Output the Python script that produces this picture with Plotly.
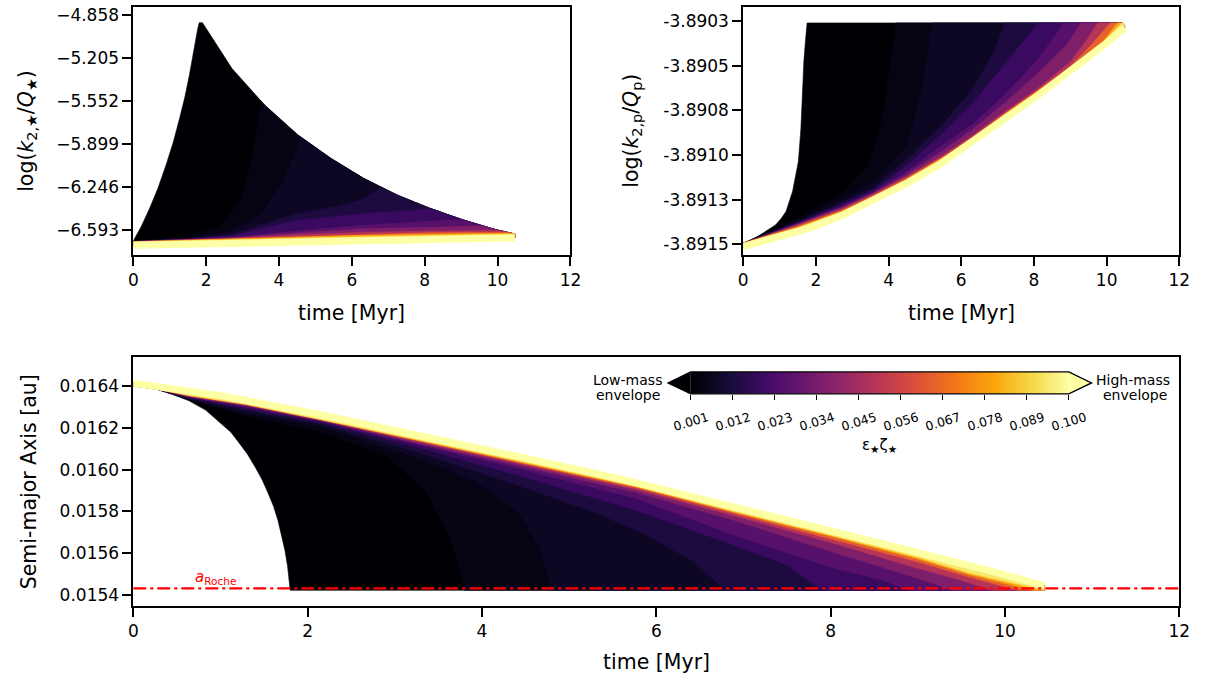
import plotly.graph_objects as go

W, H = 1214, 684
FONT = "DejaVu Sans"

# ---------------- data ----------------
eps_ticks = [0.001, 0.012, 0.023, 0.034, 0.045, 0.056, 0.067, 0.078, 0.089, 0.100]
eps_tick_labels = ["0.001", "0.012", "0.023", "0.034", "0.045",
                   "0.056", "0.067", "0.078", "0.089", "0.100"]
eps_low, eps_high = 0.001, 0.100
# parameter values of the intermediate (iso-colour) curves between the two envelopes
level_eps = [0.003, 0.005, 0.010, 0.016, 0.023, 0.031, 0.043, 0.058, 0.075, 0.090]
time_ticks = [0, 2, 4, 6, 8, 10, 12]

# ---- panel 1: log(k2,*/Q*) ----
ks_low_t = [0, 0.22, 0.45, 0.68, 0.9, 1.1, 1.27, 1.41, 1.54, 1.63, 1.72, 1.77, 1.81]
ks_low_y = [-6.678, -6.561, -6.414, -6.251, -6.065, -5.880, -5.690, -5.526, -5.341,
            -5.207, -5.046, -4.966, -4.918]
ks_end_t = [1.81, 1.9, 2.71, 3.61, 4.52, 5.42, 6.32, 7.23, 8.13, 9.03, 9.94, 10.48]
ks_end_y = [-4.918, -4.918, -5.288, -5.583, -5.824, -6.012, -6.173, -6.307,
            -6.414, -6.507, -6.587, -6.623]
ks_high_t = [0, 5.0, 10.47]
ks_high_y = [-6.714, -6.686, -6.655]
ks_level_t = [
    [0, 1.5, 2.4, 2.9, 3.25, 3.5],
    [0, 1.5, 2.7, 3.5, 4.1, 4.6],
    [0, 1.5, 2.7, 4.5, 5.6, 6.3, 6.8],
    [0, 1.5, 2.7, 4.5, 6.3, 7.5, 8.2],
    [0, 1.5, 2.7, 4.5, 6.3, 8.1, 9.0],
    [0, 1.5, 2.7, 4.5, 6.3, 8.1, 9.6],
    [0, 1.5, 2.7, 4.5, 6.3, 8.1, 10.0],
    [0, 1.5, 2.7, 4.5, 6.3, 8.1, 10.25],
    [0, 1.5, 2.7, 4.5, 6.3, 8.1, 10.38],
    [0, 1.5, 2.7, 4.5, 6.3, 8.1, 10.45],
]
ks_level_y = [
    [-6.6799, -6.6453, -6.5528, -6.3597, -6.0380, -5.5473],
    [-6.6815, -6.6574, -6.6010, -6.4563, -6.2149, -5.8401],
    [-6.6815, -6.6614, -6.6252, -6.4563, -6.3999, -6.3436, -6.2431],
    [-6.6815, -6.6646, -6.6372, -6.5126, -6.4563, -6.4361, -6.4209],
    [-6.6831, -6.6670, -6.6493, -6.5970, -6.5528, -6.5206, -6.5045],
    [-6.6839, -6.6686, -6.6533, -6.6131, -6.5809, -6.5689, -6.5576],
    [-6.6847, -6.6702, -6.6574, -6.6292, -6.6091, -6.5994, -6.5938],
    [-6.6855, -6.6718, -6.6622, -6.6413, -6.6252, -6.6131, -6.6083],
    [-6.6859, -6.6734, -6.6654, -6.6493, -6.6332, -6.6252, -6.6163],
    [-6.6863, -6.6750, -6.6694, -6.6574, -6.6453, -6.6348, -6.6211],
]
ks_ticks = [-6.593, -6.246, -5.899, -5.552, -5.205, -4.858]
ks_tick_labels = ["\u22126.593", "\u22126.246", "\u22125.899", "\u22125.552", "\u22125.205", "\u22124.858"]
ks_range = [-6.794, -4.791]

# ---- panel 2: log(k2,p/Qp) ----
kp_low_t = [0, 0.45, 0.9, 1.05, 1.18, 1.27, 1.36, 1.52, 1.59, 1.63, 1.67, 1.72, 1.76]
kp_low_y = [-3.8915235, -3.8914729, -3.8914146, -3.8913803, -3.8913422, -3.8912932,
            -3.8912333, -3.8910699, -3.8908885, -3.8907066, -3.8905253, -3.8903984,
            -3.8903129]
kp_end_t = [1.76, 10.45]
kp_end_y = [-3.8903129, -3.8903129]
kp_high_t = [0, 0.9, 1.8, 2.7, 3.6, 4.5, 5.4, 6.3, 7.2, 8.1, 9.0, 9.9, 10.5]
kp_high_y = [-3.8915355, -3.8914892, -3.8914348, -3.8913667, -3.8912823, -3.8911897,
             -3.8910862, -3.8909664, -3.8908357, -3.8907105, -3.8905798, -3.8904382,
             -3.8903401]
kp_level_t = [
    [0, 1.5, 2.7, 3.4, 3.8, 4.0, 4.2],
    [0, 1.5, 2.7, 3.6, 4.5, 4.9, 5.2],
    [0, 1.5, 2.7, 3.6, 4.5, 5.5, 6.3, 6.9, 7.2],
    [0, 1.5, 2.7, 3.6, 4.5, 5.5, 6.3, 7.2, 7.7, 8.1],
    [0, 1.5, 2.7, 3.6, 4.5, 5.5, 6.3, 7.2, 8.1, 8.5, 8.8],
    [0, 1.5, 2.7, 3.6, 4.5, 5.5, 6.3, 7.2, 8.1, 8.9, 9.3],
    [0, 1.5, 2.7, 3.6, 4.5, 5.5, 6.3, 7.2, 8.1, 9.0, 9.45, 9.75],
    [0, 1.5, 2.7, 3.6, 4.5, 5.5, 6.3, 7.2, 8.1, 9.0, 9.6, 10.1],
    [0, 1.5, 2.7, 3.6, 4.5, 5.5, 6.3, 7.2, 8.1, 9.0, 9.9, 10.3],
    [0, 1.5, 2.7, 3.6, 4.5, 5.5, 6.3, 7.2, 8.1, 9.0, 9.9, 10.42],
]
kp_level_y = [
    [-3.8915164, -3.8913803, -3.8912442, -3.8910971, -3.8908520, -3.8906070, -3.8903129],
    [-3.8915164, -3.8913912, -3.8912768, -3.8911788, -3.8909882, -3.8906886, -3.8903129],
    [-3.8915164, -3.8913993, -3.8912959, -3.8912115, -3.8910590, -3.8908629, -3.8906777,
     -3.8904708, -3.8903129],
    [-3.8915164, -3.8914048, -3.8913068, -3.8912251, -3.8910916, -3.8909119, -3.8907540,
     -3.8905362, -3.8904163, -3.8903129],
    [-3.8915164, -3.8914091, -3.8913149, -3.8912349, -3.8911243, -3.8909773, -3.8908684,
     -3.8907050, -3.8905144, -3.8904054, -3.8903129],
    [-3.8915164, -3.8914124, -3.8913220, -3.8912403, -3.8911396, -3.8910100, -3.8908956,
     -3.8907485, -3.8905906, -3.8904327, -3.8903129],
    [-3.8915164, -3.8914151, -3.8913291, -3.8912447, -3.8911521, -3.8910356, -3.8909288,
     -3.8907981, -3.8906728, -3.8905253, -3.8904054, -3.8903129],
    [-3.8915164, -3.8914233, -3.8913373, -3.8912528, -3.8911603, -3.8910437, -3.8909370,
     -3.8908063, -3.8906810, -3.8905503, -3.8904272, -3.8903129],
    [-3.8915164, -3.8914287, -3.8913427, -3.8912583, -3.8911657, -3.8910492, -3.8909424,
     -3.8908117, -3.8906865, -3.8905558, -3.8904142, -3.8903129],
    [-3.8915164, -3.8914326, -3.8913465, -3.8912621, -3.8911695, -3.8910530, -3.8909462,
     -3.8908155, -3.8906903, -3.8905596, -3.8904180, -3.8903129],
]
kp_ticks = [-3.891522, -3.891278, -3.891034, -3.890790, -3.890546, -3.890302]
kp_tick_labels = ["-3.8915", "-3.8913", "-3.8910", "-3.8908", "-3.8905", "-3.8903"]
kp_range = [-3.8915818, -3.8902257]

# ---- panel 3: semi-major axis [au] ----
sm_low_t = [0, 0.26, 0.45, 0.64, 0.83, 1.02, 1.12, 1.21, 1.31, 1.40, 1.48, 1.55, 1.61,
            1.66, 1.70, 1.74, 1.77, 1.79, 1.80]
sm_low_y = [0.0163999, 0.0163842, 0.0163595, 0.0163285, 0.0162842, 0.0162175, 0.0161785,
            0.0161299, 0.0160737, 0.0160109, 0.0159499, 0.0158842, 0.0158237, 0.0157571,
            0.0156904, 0.0156142, 0.0155380, 0.0154556, 0.0154237]
sm_end_t = [1.80, 10.45]
sm_end_y = [0.0154237, 0.0154237]
sm_high_t = [0, 1.02, 2.15, 3.28, 4.42, 5.55, 6.45, 7.59, 8.72, 9.85, 10.45]
sm_high_y = [0.0164128, 0.0163523, 0.0162618, 0.0161642, 0.0160618, 0.0159594,
             0.0158690, 0.0157523, 0.0156332, 0.0155142, 0.0154451]
sm_level_t = [
    [0, 0.26, 0.64, 1.3, 2.15, 2.9, 3.35, 3.65, 3.8],
    [0, 0.26, 0.64, 1.3, 2.15, 3.28, 3.9, 4.4, 4.65, 4.8],
    [0, 0.26, 0.64, 1.3, 2.15, 3.28, 4.42, 5.3, 5.9, 6.4, 6.8],
    [0, 0.26, 0.64, 1.3, 2.15, 3.28, 4.42, 5.77, 6.9, 7.5, 7.9],
    [0, 0.26, 0.64, 1.3, 2.15, 3.28, 4.42, 5.77, 6.9, 8.04, 8.6, 8.9],
    [0, 0.26, 0.64, 1.3, 2.15, 3.28, 4.42, 5.77, 6.9, 8.04, 9.0, 9.4],
    [0, 0.26, 0.64, 1.3, 2.15, 3.28, 4.42, 5.77, 6.9, 8.04, 9.0, 9.5, 9.85],
    [0, 0.26, 0.64, 1.3, 2.15, 3.28, 4.42, 5.77, 6.9, 8.04, 9.0, 9.6, 10.15],
    [0, 0.26, 0.64, 1.3, 2.15, 3.28, 4.42, 5.77, 6.9, 8.04, 9.0, 9.6, 10.32],
    [0, 0.26, 0.64, 1.3, 2.15, 3.28, 4.42, 5.77, 6.9, 8.04, 9.0, 9.6, 10.42],
]
sm_level_y = [
    [0.0163999, 0.0163856, 0.0163333, 0.0162523, 0.0161761, 0.0160666, 0.0158999,
     0.0156618, 0.0154237],
    [0.0163999, 0.0163856, 0.0163356, 0.0162666, 0.0162047, 0.0160523, 0.0159475,
     0.0158047, 0.0156380, 0.0154237],
    [0.0163999, 0.0163856, 0.0163404, 0.0162809, 0.0162166, 0.0160809, 0.0159237,
     0.0157952, 0.0156856, 0.0155666, 0.0154237],
    [0.0163999, 0.0163856, 0.0163437, 0.0162928, 0.0162261, 0.0161047, 0.0159714,
     0.0158047, 0.0156380, 0.0155428, 0.0154237],
    [0.0163999, 0.0163856, 0.0163466, 0.0162999, 0.0162309, 0.0161166, 0.0160047,
     0.0158618, 0.0156856, 0.0155285, 0.0154713, 0.0154237],
    [0.0163999, 0.0163856, 0.0163485, 0.0163047, 0.0162342, 0.0161237, 0.0160190,
     0.0158904, 0.0157571, 0.0156047, 0.0154809, 0.0154237],
    [0.0163999, 0.0163856, 0.0163504, 0.0163071, 0.0162366, 0.0161309, 0.0160285,
     0.0159047, 0.0157785, 0.0156475, 0.0155285, 0.0154713, 0.0154237],
    [0.0163999, 0.0163856, 0.0163523, 0.0163095, 0.0162380, 0.0161356, 0.0160356,
     0.0159128, 0.0157904, 0.0156666, 0.0155594, 0.0154856, 0.0154237],
    [0.0163999, 0.0163856, 0.0163537, 0.0163109, 0.0162390, 0.0161390, 0.0160390,
     0.0159175, 0.0157961, 0.0156785, 0.0155737, 0.0154975, 0.0154237],
    [0.0163999, 0.0163856, 0.0163547, 0.0163123, 0.0162399, 0.0161418, 0.0160418,
     0.0159209, 0.0157999, 0.0156833, 0.0155809, 0.0155047, 0.0154237],
]
sm_ticks = [0.0154, 0.0156, 0.0158, 0.0160, 0.0162, 0.0164]
sm_tick_labels = ["0.0154", "0.0156", "0.0158", "0.0160", "0.0162", "0.0164"]
sm_range = [0.0153475, 0.016538]
a_roche = 0.015433

# ---------------- colours ----------------
INFERNO = ['#000004', '#160b39', '#420a68', '#6a176e', '#932667', '#bc3754',
           '#dd513a', '#f37819', '#fca50a', '#f6d746', '#fcffa4']


def _rgb(h):
    return tuple(int(h[i:i + 2], 16) for i in (1, 3, 5))


def inferno(n):
    n = min(max(n, 0.0), 1.0)
    pos = n * 10
    i = min(int(pos), 9)
    f = pos - i
    a, b = _rgb(INFERNO[i]), _rgb(INFERNO[i + 1])
    c = [round(a[j] + (b[j] - a[j]) * f) for j in range(3)]
    return "rgb(%d,%d,%d)" % tuple(c)


def eps_color(e):
    return inferno((e - eps_low) / (eps_high - eps_low))


inferno_scale = [[i / 10, c] for i, c in enumerate(INFERNO)]

# ---------------- figure ----------------
fig = go.Figure()


def add_family(xa, ya, low_t, low_y, end_t, end_y, high_t, high_y, lev_t, lev_y):
    curves = [(low_t, low_y)] + list(zip(lev_t, lev_y))
    for k, (ct, cy) in enumerate(curves):
        xs, ys = list(ct), list(cy)
        for t, y in zip(end_t, end_y):
            if t > ct[-1] + 1e-9:
                xs.append(t)
                ys.append(y)
        xs += high_t[::-1]
        ys += high_y[::-1]
        if k == 0:
            col = eps_color(eps_low)
        else:
            e_here = level_eps[k - 1]
            e_next = level_eps[k] if k < len(level_eps) else eps_high
            col = eps_color(e_here + 0.4 * (e_next - e_here))
        fig.add_trace(go.Scatter(x=xs, y=ys, mode="lines", fill="toself",
                                 fillcolor=col, line=dict(color=col, width=0.6),
                                 hoverinfo="skip", showlegend=False,
                                 xaxis=xa, yaxis=ya))
    fig.add_trace(go.Scatter(x=high_t, y=high_y, mode="lines",
                             line=dict(color=eps_color(eps_high), width=7),
                             hoverinfo="skip", showlegend=False,
                             xaxis=xa, yaxis=ya))


add_family("x", "y", ks_low_t, ks_low_y, ks_end_t, ks_end_y, ks_high_t, ks_high_y,
           ks_level_t, ks_level_y)
add_family("x2", "y2", kp_low_t, kp_low_y, kp_end_t, kp_end_y, kp_high_t, kp_high_y,
           kp_level_t, kp_level_y)
add_family("x3", "y3", sm_low_t, sm_low_y, sm_end_t, sm_end_y, sm_high_t, sm_high_y,
           sm_level_t, sm_level_y)

# colour bar body (gradient through the eps tick values)
fig.add_trace(go.Heatmap(z=[eps_ticks, eps_ticks], x=eps_ticks, y=[0, 1],
                         colorscale=inferno_scale, zmin=eps_low, zmax=eps_high,
                         zsmooth="best", showscale=False, hoverinfo="skip",
                         xaxis="x4", yaxis="y4"))

# ---------------- layout geometry (pixels) ----------------
L1, R1 = 130, 573
L2, R2 = 748, 1190
T_TOP, B_TOP = 5, 254
T_BOT, B_BOT = 356, 606
CB_X0, CB_X1, CB_Y0, CB_Y1, CB_TIP = 695, 1078, 371, 393, 23


def px(x):
    return x / W


def py(y):
    return 1 - y / H


axis_common = dict(showline=True, mirror=True, linecolor="black", linewidth=1.6,
                   ticks="outside", ticklen=9, tickwidth=1.6, tickcolor="black",
                   showgrid=False, zeroline=False,
                   tickfont=dict(family=FONT, size=17, color="black"))

fig.update_layout(
    width=W, height=H, margin=dict(l=0, r=0, t=0, b=0),
    paper_bgcolor="white", plot_bgcolor="white", showlegend=False,
    font=dict(family=FONT, color="black"),
    xaxis=dict(domain=[px(L1), px(R1)], range=[0, 12], tickvals=time_ticks,
               anchor="y", **axis_common),
    yaxis=dict(domain=[py(B_TOP), py(T_TOP)], range=ks_range, tickvals=ks_ticks,
               ticktext=ks_tick_labels, anchor="x", **axis_common),
    xaxis2=dict(domain=[px(L2), px(R2)], range=[0, 12], tickvals=time_ticks,
                anchor="y2", **axis_common),
    yaxis2=dict(domain=[py(B_TOP), py(T_TOP)], range=kp_range, tickvals=kp_ticks,
                ticktext=kp_tick_labels, anchor="x2", **axis_common),
    xaxis3=dict(domain=[px(L1), px(R2)], range=[0, 12], tickvals=time_ticks,
                anchor="y3", **axis_common),
    yaxis3=dict(domain=[py(B_BOT), py(T_BOT)], range=sm_range, tickvals=sm_ticks,
                ticktext=sm_tick_labels, anchor="x3", **axis_common),
    xaxis4=dict(domain=[px(CB_X0), px(CB_X1)], range=[eps_low, eps_high],
                anchor="y4", showline=False, showgrid=False, zeroline=False,
                ticks="outside", tickvals=eps_ticks, ticklen=5, tickwidth=1.3,
                tickcolor="black", showticklabels=False, fixedrange=True),
    yaxis4=dict(domain=[py(CB_Y1), py(CB_Y0)], range=[0, 1], anchor="x4",
                visible=False, fixedrange=True),
)

mid_y = (CB_Y0 + CB_Y1) / 2
shapes = [
    dict(type="line", xref="x3 domain", x0=0, x1=1, yref="y3", y0=a_roche, y1=a_roche,
         line=dict(color="red", width=2.2, dash="13px,4px,3px,4px"), layer="above"),
    dict(type="path", xref="paper", yref="paper",
         path="M %f,%f L %f,%f L %f,%f Z" % (px(CB_X0), py(CB_Y0), px(CB_X0 - CB_TIP),
                                           py(mid_y), px(CB_X0), py(CB_Y1)),
         fillcolor=eps_color(eps_low), line=dict(width=0)),
    dict(type="path", xref="paper", yref="paper",
         path="M %f,%f L %f,%f L %f,%f Z" % (px(CB_X1), py(CB_Y0), px(CB_X1 + CB_TIP),
                                           py(mid_y), px(CB_X1), py(CB_Y1)),
         fillcolor=eps_color(eps_high), line=dict(width=0)),
    dict(type="path", xref="paper", yref="paper",
         path="M %f,%f L %f,%f L %f,%f L %f,%f L %f,%f L %f,%f Z" % (
             px(CB_X0), py(CB_Y0), px(CB_X0 - CB_TIP), py(mid_y),
             px(CB_X0), py(CB_Y1), px(CB_X1), py(CB_Y1),
             px(CB_X1 + CB_TIP), py(mid_y), px(CB_X1), py(CB_Y0)),
         line=dict(color="black", width=1.4)),
]

ann = []
TITLE = dict(family=FONT, size=20.5, color="black")
for txt, x, y, ang in [
    ("log(<i>k</i><sub>2,\u2605</sub>/<i>Q</i><sub>\u2605</sub>)", 22, (T_TOP + B_TOP) / 2, -90),
    ("log(<i>k</i><sub>2,p</sub>/<i>Q</i><sub>p</sub>)", 635, (T_TOP + B_TOP) / 2, -90),
    ("Semi-major Axis [au]", 24, (T_BOT + B_BOT) / 2, -90),
    ("time [Myr]", (L1 + R1) / 2, 312, 0),
    ("time [Myr]", (L2 + R2) / 2, 312, 0),
    ("time [Myr]", (L1 + R2) / 2, 662, 0),
]:
    ann.append(dict(text=txt, x=px(x), y=py(y), xref="paper", yref="paper",
                    xanchor="center", yanchor="middle", textangle=ang,
                    showarrow=False, font=TITLE))

for e, lab in zip(eps_ticks, eps_tick_labels):
    ann.append(dict(text=lab, x=e, xref="x4", y=py(421), yref="paper",
                    xanchor="center", yanchor="middle", textangle=-17,
                    showarrow=False, font=dict(family=FONT, size=12.5, color="black")))
ann.append(dict(text="\u03b5<sub>\u2605</sub>\u03b6<sub>\u2605</sub>",
                x=px((CB_X0 + CB_X1) / 2), y=py(445), xref="paper", yref="paper",
                xanchor="center", yanchor="middle", showarrow=False,
                font=dict(family=FONT, size=15, color="black")))
for txt, x, y in [("Low-mass", 631, 379), ("envelope", 631, 394),
                  ("High-mass", 1143, 379), ("envelope", 1145, 394)]:
    ann.append(dict(text=txt, x=px(x), y=py(y), xref="paper", yref="paper",
                    xanchor="center", yanchor="middle", showarrow=False,
                    font=dict(family=FONT, size=14, color="black")))
ann.append(dict(text="<i>a</i><sub>Roche</sub>", x=0.94, y=0.0154857, xref="x3", yref="y3",
                xanchor="center", yanchor="middle", showarrow=False,
                font=dict(family=FONT, size=15, color="red")))

fig.update_layout(shapes=shapes, annotations=ann)

fig.write_html("out.html", include_plotlyjs=True, full_html=True,
               config={"displayModeBar": False},
               post_script="document.body.style.margin='0px';document.body.style.overflow='hidden';")
